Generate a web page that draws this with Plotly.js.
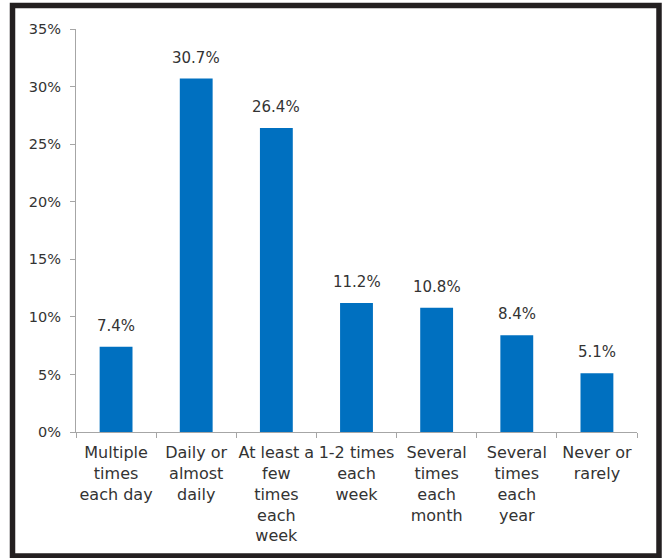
<!DOCTYPE html>
<html>
<head>
<meta charset="utf-8">
<script src="https://cdn.plot.ly/plotly-3.0.1.min.js"></script>
<style>
html,body{margin:0;padding:0;background:#fff;}
#chart{width:665px;height:558px;}
</style>
</head>
<body>
<div id="chart"></div>
<script>
const categories = [
  "Multiple<br>times<br>each day",
  "Daily or<br>almost<br>daily",
  "At least a<br>few<br>times<br>each<br>week",
  "1-2 times<br>each<br>week",
  "Several<br>times<br>each<br>month",
  "Several<br>times<br>each<br>year",
  "Never or<br>rarely"
];
const values = [7.4, 30.7, 26.4, 11.2, 10.8, 8.4, 5.1];
const yTickVals = [0, 5, 10, 15, 20, 25, 30, 35];

const W = 665, H = 558;
const mL = 76, mR = 28, mT = 29, mB = 126;
const pw = W - mL - mR, ph = H - mT - mB;
function px2x(p){ return (p - mL) / pw; }
function py2y(p){ return (H - mB - p) / ph; }

const textFont = {family: "DejaVu Sans, sans-serif", size: 15, color: "#333333"};

const annotations = categories.map((c, i) => ({
  x: c, y: values[i], xref: "x", yref: "y",
  text: values[i].toFixed(1) + "%",
  showarrow: false, yanchor: "bottom", yshift: 10,
  font: textFont
}));

const data = [{
  type: "bar",
  x: categories,
  y: values,
  marker: {color: "#0070C0"},
  hoverinfo: "skip"
}];

const layout = {
  width: W, height: H,
  margin: {l: mL, r: mR, t: mT, b: mB, pad: 0},
  paper_bgcolor: "#ffffff",
  plot_bgcolor: "#ffffff",
  bargap: 0.59,
  showlegend: false,
  font: textFont,
  xaxis: {
    type: "category",
    tickson: "boundaries",
    tickangle: 0,
    ticks: "outside", ticklen: 5, tickcolor: "#a6a6a6", tickwidth: 1,
    showline: true, linecolor: "#a6a6a6", linewidth: 1,
    showgrid: false, zeroline: false,
    ticklabelstandoff: 6,
    tickfont: {family: "DejaVu Sans, sans-serif", size: 16, color: "#333333"},
    fixedrange: true
  },
  yaxis: {
    range: [0, 35],
    tickvals: yTickVals,
    ticktext: yTickVals.map(v => v + "%"),
    ticks: "outside", ticklen: 5, tickcolor: "#a6a6a6", tickwidth: 1,
    showline: true, linecolor: "#a6a6a6", linewidth: 1,
    showgrid: false, zeroline: false,
    ticklabelstandoff: 6,
    tickfont: {family: "DejaVu Sans, sans-serif", size: 14.5, color: "#333333"},
    fixedrange: true
  },
  annotations: annotations,
  shapes: [{
    type: "rect", xref: "paper", yref: "paper", layer: "above",
    x0: px2x(12.5), x1: px2x(659), y0: py2y(556), y1: py2y(5.5),
    line: {color: "#231f20", width: 5.5}, fillcolor: "rgba(0,0,0,0)"
  }]
};

Plotly.newPlot("chart", data, layout, {displayModeBar: false, staticPlot: true});
</script>
</body>
</html>
